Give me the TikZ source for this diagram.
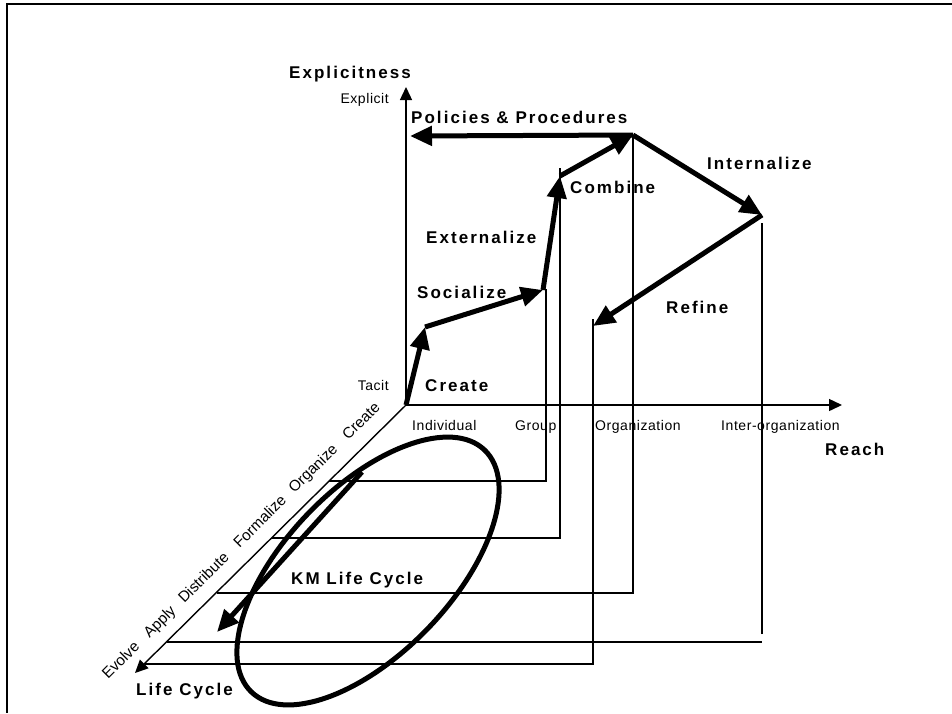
\documentclass[tikz,border=0pt]{standalone}
\usepackage{fontspec}
\setmainfont{Liberation Sans}
\newfontfamily\widefont[LetterSpace=12]{Liberation Sans}
\newfontfamily\slightfont[LetterSpace=4]{Liberation Sans}
\usetikzlibrary{arrows.meta}
\begin{document}
\begin{tikzpicture}[x=1pt,y=-1pt,
  projline/.style={line width=1.4pt},
  kmarrow/.style={line width=5pt,-{Triangle[length=22pt,width=19pt]}},
  axisarrow/.style={line width=1.4pt,-{Triangle[length=13pt,width=12pt]}},
  biglabel/.style={font=\widefont\bfseries\fontsize{17}{20}\selectfont,inner sep=0pt,anchor=base west},
  smalllabel/.style={font=\slightfont\fontsize{14}{17}\selectfont,inner sep=0pt,anchor=base west},
  diaglabel/.style={font=\fontsize{15.2}{18}\selectfont,inner sep=0pt,anchor=base west,rotate=44.9}]
\useasboundingbox (0,0) rectangle (952,713);
% frame (top and left edges only)
\coordinate (fTR) at (952,4);
\coordinate (fTL) at (7,4);
\coordinate (fBL) at (7,713);
\draw[line width=2.6pt] (fTR) -- (fTL) -- (fBL);
% axes
\coordinate (O) at (406,405);
\coordinate (Ytip) at (406,87);
\coordinate (Xtip) at (842,405);
\coordinate (Ztip) at (135,673);
\draw[axisarrow] (O) -- (Ytip);
\draw[axisarrow] (O) -- (Xtip);
\draw[axisarrow] (O) -- (Ztip);
% projection lines
\coordinate (d1) at (329,481); \coordinate (c1) at (546,481); \coordinate (t1) at (546,289);
\coordinate (d2) at (272,538); \coordinate (c2) at (560,538); \coordinate (t2) at (560,168);
\coordinate (d3) at (217,593); \coordinate (c3) at (633,593); \coordinate (t3) at (633,135);
\coordinate (d4) at (167,642); \coordinate (c4) at (762,642);
\coordinate (b4) at (762,634); \coordinate (t4) at (762,223);
\coordinate (d5) at (145,664); \coordinate (c5) at (593,664); \coordinate (t5) at (593,319);
\draw[projline] (d1) -- (c1) -- (t1);
\draw[projline] (d2) -- (c2) -- (t2);
\draw[projline] (d3) -- (c3) -- (t3);
\draw[projline] (d4) -- (c4);
\draw[projline] (b4) -- (t4);
\draw[projline] (d5) -- (c5) -- (t5);
% knowledge path
\coordinate (A1) at (425,327);
\coordinate (A2) at (543,290);
\coordinate (A3) at (560,176);
\coordinate (A4) at (633,135);
\coordinate (PP) at (410,136);
\coordinate (A5) at (762,215);
\coordinate (A6) at (593,326);
\draw[kmarrow] (O) -- (A1);
\draw[kmarrow] (A1) -- (A2);
\draw[kmarrow] (A2) -- (A3);
\draw[kmarrow] (A3) -- (A4);
\draw[kmarrow] (A4) -- (PP);
\draw[kmarrow] (A4) -- (A5);
\draw[kmarrow] (A5) -- (A6);
% life cycle ellipse and arrow
\coordinate (EC) at (368,571);
\draw[line width=5pt,rotate around={46:(EC)}] (EC) ellipse [x radius=168,y radius=83];
\coordinate (Ls) at (362,472);
\coordinate (Le) at (217,632);
\draw[kmarrow] (Ls) -- (Le);
% labels
\node[biglabel] (explicitness) at (289,78) {Explicitness};
\node[smalllabel,anchor=base east] (explicit) at (389,103) {Explicit};
\node[smalllabel,anchor=base east] (tacit) at (389,390) {Tacit};
\node[biglabel] (policies) at (411,123) {Policies \& Procedures};
\node[biglabel] (combine) at (570,193) {Combine};
\node[biglabel] (internalize) at (707,169) {Internalize};
\node[biglabel] (externalize) at (426,243) {Externalize};
\node[biglabel] (socialize) at (417,298) {Socialize};
\node[biglabel] (refine) at (666,313) {Refine};
\node[biglabel] (create) at (425,391) {Create};
\node[smalllabel] (individual) at (412,430) {Individual};
\node[smalllabel] (group) at (515,430) {Group};
\node[smalllabel] (organization) at (595,430) {Organization};
\node[smalllabel] (interorg) at (721,430) {Inter-organization};
\node[biglabel] (reach) at (825,455) {Reach};
\node[biglabel] (kmlc) at (291,584) {KM Life Cycle};
\node[biglabel] (lifecycle) at (136,695) {Life Cycle};
% life-cycle stages along the diagonal axis
\node[diaglabel] (sEvolve) at (108,680) {Evolve};
\node[diaglabel] (sApply) at (149.5,638.6) {Apply};
\node[diaglabel] (sDistribute) at (184.2,604.0) {Distribute};
\node[diaglabel] (sFormalize) at (239.6,548.8) {Formalize};
\node[diaglabel] (sOrganize) at (294.6,494.0) {Organize};
\node[diaglabel] (sCreate) at (348.3,440.6) {Create};
\end{tikzpicture}
\end{document}
